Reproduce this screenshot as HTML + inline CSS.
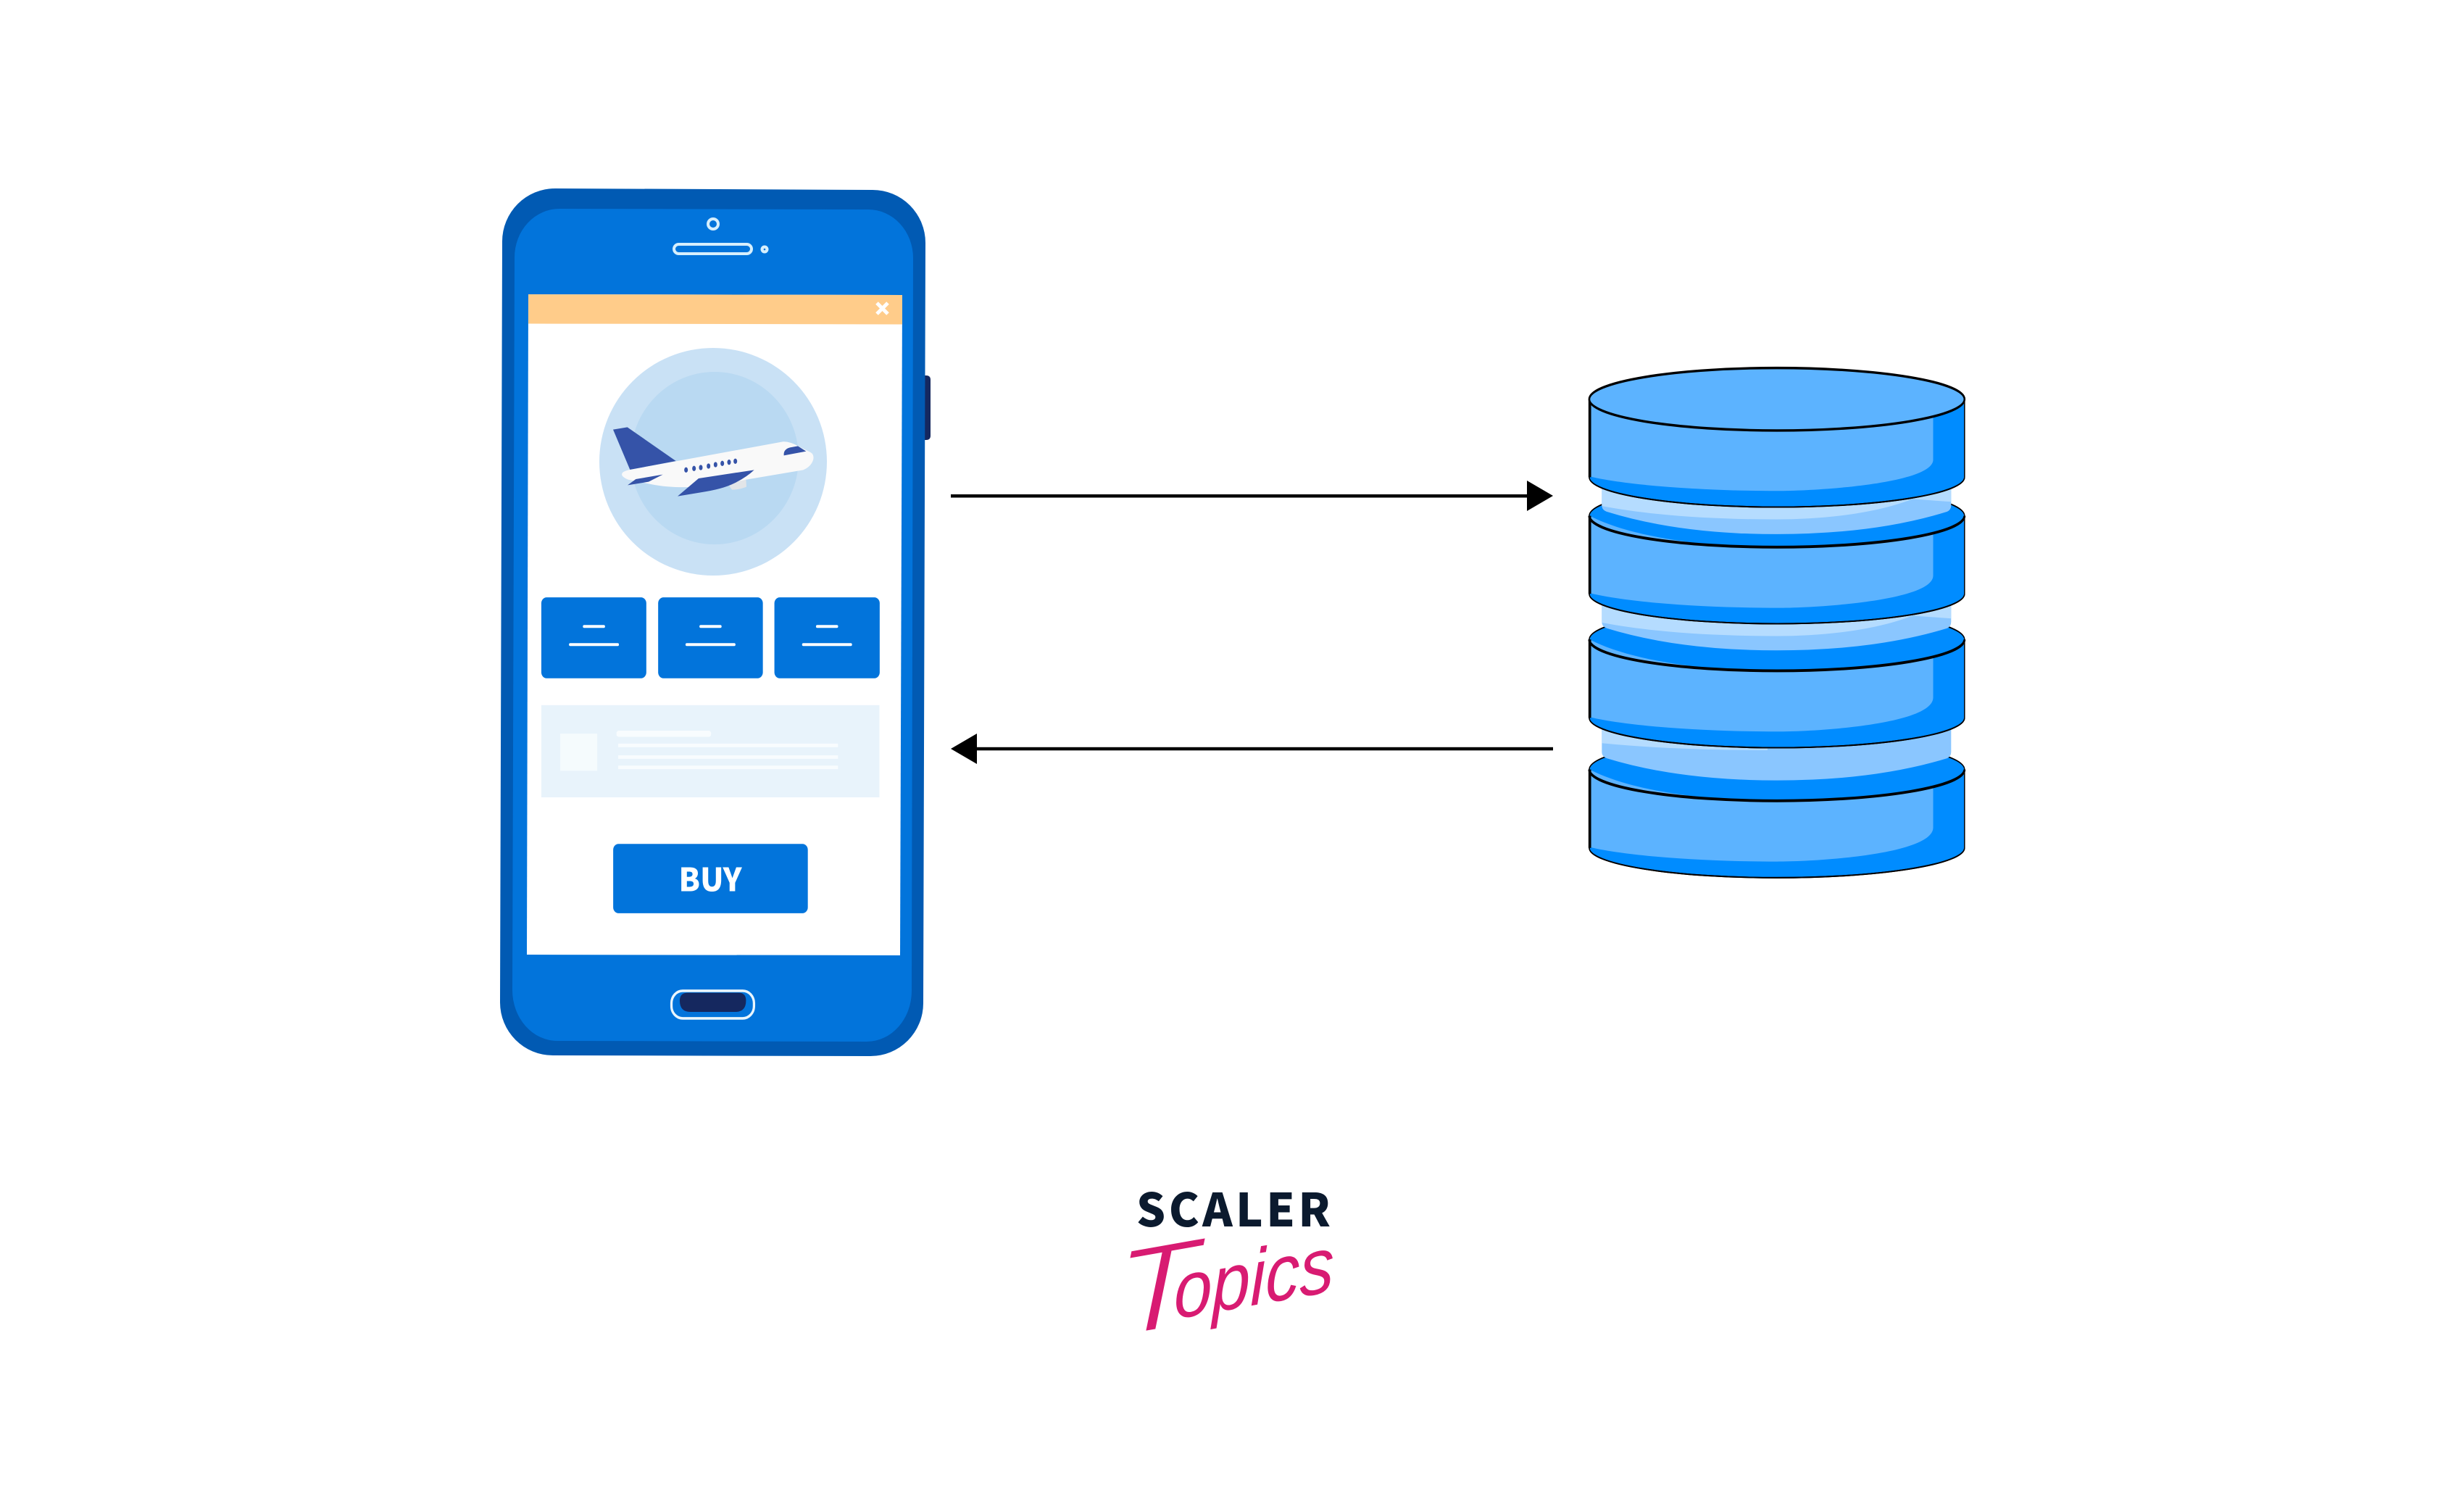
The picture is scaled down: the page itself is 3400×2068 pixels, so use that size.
<!DOCTYPE html>
<html><head><meta charset="utf-8"><style>
html,body{margin:0;padding:0;background:#fff;width:3400px;height:2068px;overflow:hidden}
svg{display:block}
</style></head><body>
<svg width="3400" height="2068" viewBox="0 0 3400 2068" xmlns="http://www.w3.org/2000/svg">
<rect width="3400" height="2068" fill="#fff"/>
<!-- side button -->
<path d="M1270 518H1278Q1284 518 1284 524V601Q1284 607 1278 607H1270Z" fill="#15285F"/>
<!-- phone -->
<path d="M766 260L1204 262A73 73 0 0 1 1277 335L1274 1384A73 73 0 0 1 1201 1457L763 1456A73 73 0 0 1 690 1383L693 333A73 73 0 0 1 766 260Z" fill="#015AB3"/>
<path d="M772 288L1198 289A62 67 0 0 1 1260 356L1258 1367A62 70 0 0 1 1196 1437L769 1436A62 70 0 0 1 707 1366L710 355A62 67 0 0 1 772 288Z" fill="#0274DB"/>
<path d="M729 406L1245 407L1242 1318L727 1317Z" fill="#fff"/>
<path d="M729 406L1245 407V447.500L729 446.500Z" fill="#FFCC8A"/>
<path d="M1210 418L1225 433M1225 418L1210 433" stroke="#fff" stroke-width="5"/>
<circle cx="984" cy="309" r="7" fill="none" stroke="#D6EFFD" stroke-width="4"/>
<rect x="930" y="337" width="107" height="13" rx="6.500" fill="none" stroke="#D6EFFD" stroke-width="4"/>
<circle cx="1055" cy="344" r="5.500" fill="#D6EFFD"/><circle cx="1055" cy="344" r="1.300" fill="#0274DB"/>
<ellipse cx="984" cy="637" rx="157" ry="157" fill="#C9E1F5"/>
<ellipse cx="986" cy="632" rx="116" ry="119" fill="#B9D9F2"/>
<!-- plane -->
<g transform="translate(800 560) scale(.33333)">
<path d="M615 325L688 300L690 335Q660 347 630 347Z" fill="#E2E5E8"/>
<path d="M138 98L197 88L398 228L208 264Z" fill="#3553A8"/>
<path d="M208 264L840 148Q868 146 905 167L955 192Q970 200 967 220Q960 250 925 265L690 305L560 330Q400 345 300 325L200 305Q170 292 175 280Q178 270 208 264Z" fill="#F9F9F9"/>
<path d="M845 205Q842 180 870 172L903 166L937 188Z" fill="#3553A8"/>
<path d="M405 374L492 300L722 265Q690 295 640 320Q590 345 500 358Z" fill="#3553A8"/>
<path d="M198 328L232 303L344 284L285 314Z" fill="#3553A8"/>
<g fill="#3553A8"><ellipse cx="440" cy="265" rx="7.500" ry="11"/><ellipse cx="473" cy="259" rx="7.500" ry="11"/><ellipse cx="501" cy="255" rx="7.500" ry="11"/><ellipse cx="533" cy="249" rx="7.500" ry="11"/><ellipse cx="562" cy="243" rx="7.500" ry="11"/><ellipse cx="590" cy="238" rx="7.500" ry="11"/><ellipse cx="618" cy="233" rx="7.500" ry="11"/><ellipse cx="644" cy="229" rx="7.500" ry="11"/></g>
</g>
<!-- lower screen -->
<g transform="translate(680 800) scale(.40816 .44643)">
<g fill="#0274DB"><rect x="164" y="54" width="355" height="250" rx="18"/><rect x="559" y="54" width="354" height="250" rx="18"/><rect x="952" y="54" width="356" height="250" rx="18"/></g>
<g stroke="#fff" stroke-width="9" stroke-linecap="round"><path d="M309 144H375M262 200H422M703 144H769M656 200H816M1097 144H1163M1050 200H1210"/></g>
<rect x="164" y="387" width="1143" height="285" fill="#E8F3FB"/>
<rect x="228" y="475" width="125" height="115" fill="#F5FBFD"/>
<g fill="#F8FCFE"><rect x="418" y="466" width="320" height="19" rx="8"/><rect x="424" y="506" width="743" height="11"/><rect x="424" y="542" width="743" height="11"/><rect x="424" y="574" width="743" height="11"/></g>
<rect x="407" y="816" width="658" height="214" rx="18" fill="#0274DB"/>
<rect x="604" y="1270" width="279" height="85" rx="38" fill="none" stroke="#EAF6FD" stroke-width="8"/>
<path d="M632 1300Q632 1276 660 1276H830Q856 1276 856 1300Q856 1335 820 1335H668Q632 1335 632 1300Z" fill="#15285F"/>
</g>
<text x="980" y="1229.500" font-family="'Noto Sans CJK JP','Liberation Sans',sans-serif" font-weight="900" font-size="44" fill="#fff" text-anchor="middle" textLength="87" lengthAdjust="spacingAndGlyphs">BUY</text>
<!-- arrows -->
<rect x="1312" y="682" width="796" height="4.500" fill="#000"/>
<path d="M2107 663L2143 684L2107 705Z" fill="#000"/>
<rect x="1347" y="1030.800" width="796" height="4.500" fill="#000"/>
<path d="M1348 1012L1312 1033L1348 1054Z" fill="#000"/>
<!-- database -->
<g transform="translate(2180 480) scale(.36990 .48468)">
<!-- disk 4 -->
<path d="M35 1200A700 89 0 0 1 1435 1200V1423A700 85 0 0 1 35 1423Z" fill="#008CFF" stroke="#000" stroke-width="4"/>
<path d="M37 1200C200 1265 500 1290 735 1290C900 1290 1150 1280 1318 1250V1365C1318 1440 900 1462 735 1462C500 1462 200 1450 37 1421Z" fill="#5CB3FF"/>
<path d="M35 1200A700 89 0 0 0 1435 1200" fill="none" stroke="#000" stroke-width="8"/>
<path d="M37 1200V1423" stroke="#000" stroke-width="10"/><path d="M35 1423A700 85 0 0 0 1435 1423" fill="none" stroke="#000" stroke-width="4"/>
<!-- col 3 -->
<path d="M82 1080H1385V1150Q1385 1163 1370 1168Q1100 1231 735 1231Q370 1231 100 1168Q82 1163 82 1150Z" fill="#8AC6FF"/>
<path d="M82 1080H700V1145C500 1145 280 1140 82 1125Z" fill="#B5DCFF"/>
<!-- disk 3 -->
<path d="M35 830A700 89 0 0 1 1435 830V1053A700 85 0 0 1 35 1053Z" fill="#008CFF" stroke="#000" stroke-width="4"/>
<path d="M37 830C200 895 500 920 735 920C900 920 1150 910 1318 880V995C1318 1070 900 1092 735 1092C500 1092 200 1080 37 1051Z" fill="#5CB3FF"/>
<path d="M35 830A700 89 0 0 0 1435 830" fill="none" stroke="#000" stroke-width="8"/>
<path d="M37 830V1053" stroke="#000" stroke-width="10"/><path d="M35 1053A700 85 0 0 0 1435 1053" fill="none" stroke="#000" stroke-width="4"/>
<!-- col 2 -->
<path d="M82 720H1385V780Q1385 793 1370 798Q1100 861 735 861Q370 861 100 798Q82 793 82 780Z" fill="#8AC6FF"/>
<path d="M82 720H1385V770L1240 762C1100 805 900 820 735 820C500 820 280 810 82 782Z" fill="#B5DCFF"/>
<!-- disk 2 -->
<path d="M35 478A700 89 0 0 1 1435 478V700A700 85 0 0 1 35 700Z" fill="#008CFF" stroke="#000" stroke-width="4"/>
<path d="M37 478C200 543 500 568 735 568C900 568 1150 558 1318 528V648C1318 718 900 740 735 740C500 740 200 728 37 698Z" fill="#5CB3FF"/>
<path d="M35 478A700 89 0 0 0 1435 478" fill="none" stroke="#000" stroke-width="8"/>
<path d="M37 478V700" stroke="#000" stroke-width="10"/><path d="M35 700A700 85 0 0 0 1435 700" fill="none" stroke="#000" stroke-width="4"/>
<!-- col 1 -->
<path d="M82 380H1385V448Q1385 461 1370 466Q1100 530 735 530Q370 530 100 466Q82 461 82 448Z" fill="#8AC6FF"/>
<path d="M82 380H1385V438L1240 430C1100 473 900 488 735 488C500 488 280 478 82 450Z" fill="#B5DCFF"/>
<!-- disk 1 -->
<path d="M35 146A700 89 0 0 1 1435 146V368A700 85 0 0 1 35 368Z" fill="#008CFF" stroke="#000" stroke-width="4"/>
<path d="M37 146H1318V318C1318 385 900 407 735 407C500 407 200 395 37 366Z" fill="#5CB3FF"/>
<path d="M1318 190C1380 178 1435 165 1435 146V368H1318Z" fill="#008CFF"/>
<path d="M37 146V368" stroke="#000" stroke-width="10"/><path d="M1435 146V368" stroke="#000" stroke-width="4"/>
<path d="M35 368A700 85 0 0 0 1435 368" fill="none" stroke="#000" stroke-width="4"/>
<ellipse cx="735" cy="146" rx="700" ry="89" fill="#5CB3FF" stroke="#000" stroke-width="7"/>
</g>
<!-- logo -->
<text x="1568" y="1692" font-family="'Noto Sans CJK JP','Liberation Sans',sans-serif" font-weight="900" font-size="63" fill="#0B1A2E" textLength="268" lengthAdjust="spacing">SCALER</text>
<g font-family="'Liberation Sans',sans-serif" font-style="italic" fill="#D81B72">
<text transform="translate(1540 1845) skewY(-10) scale(1.1 1)" font-size="170" stroke="#fff" stroke-width="4">T</text>
<text transform="translate(1620 1820) skewY(-10) scale(.86 1)" font-size="110">opics</text>
</g>
</svg>
</body></html>
